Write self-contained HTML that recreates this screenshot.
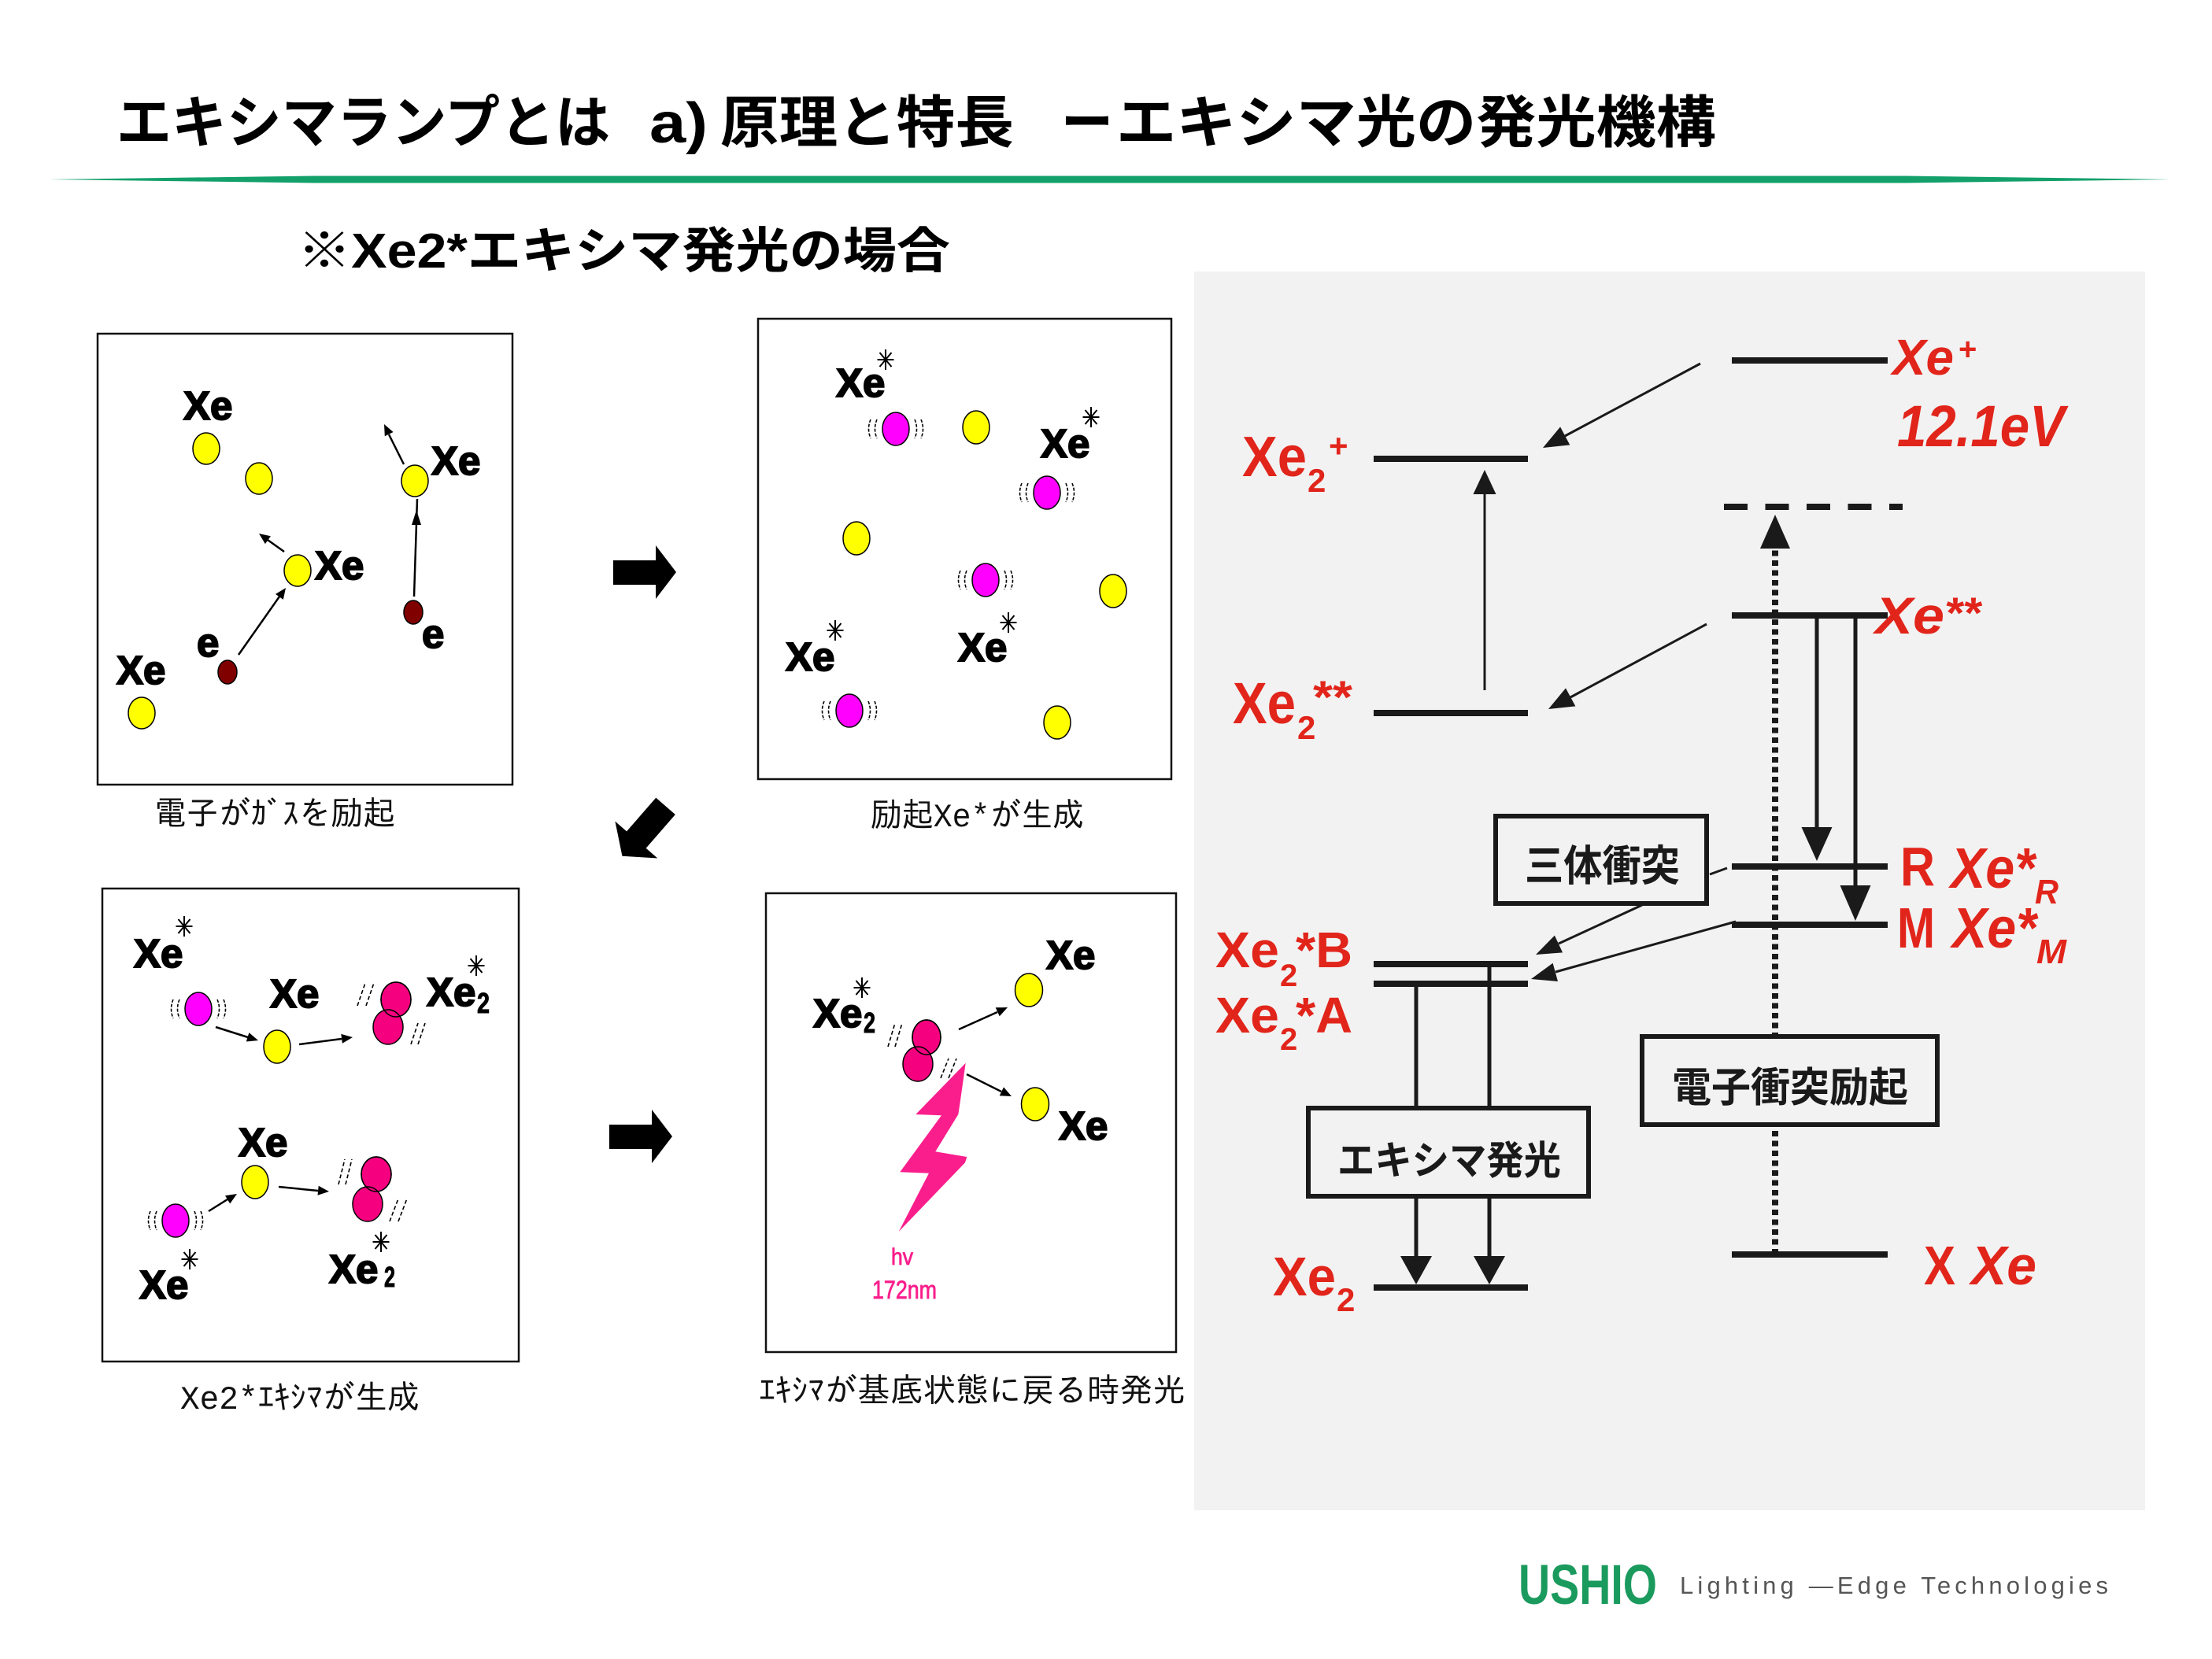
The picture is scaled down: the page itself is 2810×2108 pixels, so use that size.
<!DOCTYPE html>
<html><head><meta charset="utf-8">
<style>
html,body{margin:0;padding:0;background:#fff;width:2810px;height:2108px;overflow:hidden;}
svg{display:block;}
</style></head><body>
<svg width="2810" height="2108" viewBox="0 0 2810 2108" xmlns="http://www.w3.org/2000/svg">
<rect width="2810" height="2108" fill="#fff"/>

<!-- Title -->
<g font-family="'Liberation Sans','Noto Sans CJK JP',sans-serif" font-weight="700" fill="#000" font-size="72">
<text x="148" y="181" textLength="627" lengthAdjust="spacingAndGlyphs">エキシマランプとは</text>
<text x="825" y="181" textLength="74" lengthAdjust="spacingAndGlyphs">a)</text>
<text x="915" y="181" textLength="373" lengthAdjust="spacingAndGlyphs">原理と特長</text>
<text x="1348" y="181" textLength="66" lengthAdjust="spacingAndGlyphs">ー</text>
<text x="1418" y="181" textLength="762" lengthAdjust="spacingAndGlyphs">エキシマ光の発光機構</text>
</g>
<polygon points="63,228 400,223.5 2420,223.5 2757,228 2420,232.5 400,232.5" fill="#13a06a"/>
<text x="378" y="340" font-family="'Liberation Sans','Noto Sans CJK JP',sans-serif" font-weight="700" font-size="62" textLength="829" lengthAdjust="spacingAndGlyphs" fill="#000">※Xe2*エキシマ発光の場合</text>

<!-- Right panel background -->
<rect x="1517" y="345" width="1208" height="1574" fill="#f2f2f2"/>

<!-- Left boxes -->
<g fill="#fff" stroke="#111" stroke-width="2.5">
<rect x="124" y="424" width="527" height="573"/>
<rect x="963" y="405" width="525" height="585"/>
<rect x="130" y="1129" width="529" height="601"/>
<rect x="973" y="1135" width="521" height="583"/>
</g>

<!-- Big arrows -->
<g fill="#000">
<polygon points="779,712 833,712 833,693 859,727 833,761 833,743 779,743"/>
<polygon points="774,1429 828,1429 828,1410 854,1444 828,1478 828,1460 774,1460"/>
<polygon transform="translate(818,1056) rotate(131) scale(1.05)" points="-40,-15.5 14,-15.5 14,-34 40,0 14,34 14,15.5 -40,15.5"/>
</g>

<!-- Box1 contents -->
<g stroke="#000" stroke-width="1.5">
<ellipse cx="262" cy="570" rx="17" ry="20" fill="#ffff00"/>
<ellipse cx="329" cy="608" rx="17" ry="20" fill="#ffff00"/>
<ellipse cx="527" cy="611" rx="17" ry="20" fill="#ffff00"/>
<ellipse cx="378" cy="725" rx="17" ry="20" fill="#ffff00"/>
<ellipse cx="180" cy="906" rx="17" ry="20" fill="#ffff00"/>
<ellipse cx="289" cy="854" rx="12" ry="15" fill="#800000"/>
<ellipse cx="525" cy="778" rx="12" ry="15" fill="#800000"/>
</g>
<g stroke="#000" stroke-width="2.5" fill="none">
<line x1="303" y1="832" x2="355" y2="758"/>
<line x1="361" y1="701" x2="340" y2="686"/>
<line x1="513" y1="590" x2="494" y2="552"/>
<line x1="526" y1="758" x2="530" y2="634"/>
</g>
<g fill="#000">
<polygon points="363,747 359.8,761.9 350,754.9"/>
<polygon points="329,678 343.9,681.3 336.9,691.1"/>
<polygon points="488,539 499.6,549 488.8,554.2"/>
<polygon points="529,648 535,667 523,667"/>
</g>
<g font-family="'Liberation Sans',sans-serif" font-weight="700" font-size="51" fill="#000" stroke="#000" stroke-width="2">
<text x="233" y="533">Xe</text>
<text x="548" y="603">Xe</text>
<text x="400" y="736">Xe</text>
<text x="148" y="869">Xe</text>
<text x="250" y="834">e</text>
<text x="536" y="823">e</text>
</g>

<!-- Box2 contents -->
<g stroke="#000" stroke-width="1.5">
<ellipse cx="1138" cy="545" rx="17" ry="21" fill="#ff00ff"/>
<ellipse cx="1330" cy="626" rx="17" ry="21" fill="#ff00ff"/>
<ellipse cx="1252" cy="737" rx="17" ry="21" fill="#ff00ff"/>
<ellipse cx="1079" cy="903" rx="17" ry="21" fill="#ff00ff"/>
<ellipse cx="1240" cy="543" rx="17" ry="21" fill="#ffff00"/>
<ellipse cx="1088" cy="684" rx="17" ry="21" fill="#ffff00"/>
<ellipse cx="1414" cy="751" rx="17" ry="21" fill="#ffff00"/>
<ellipse cx="1343" cy="918" rx="17" ry="21" fill="#ffff00"/>
</g>
<!-- vibration marks -->
<g stroke="#000" stroke-width="1.6" fill="none" stroke-dasharray="4 2">
<path d="M1114,533 Q1109,545 1114,557 M1106,533 Q1101,545 1106,557 M1162,533 Q1167,545 1162,557 M1170,533 Q1175,545 1170,557"/>
<path d="M1306,614 Q1301,626 1306,638 M1298,614 Q1293,626 1298,638 M1354,614 Q1359,626 1354,638 M1362,614 Q1367,626 1362,638"/>
<path d="M1228,725 Q1223,737 1228,749 M1220,725 Q1215,737 1220,749 M1276,725 Q1281,737 1276,749 M1284,725 Q1289,737 1284,749"/>
<path d="M1055,891 Q1050,903 1055,915 M1047,891 Q1042,903 1047,915 M1103,891 Q1108,903 1103,915 M1111,891 Q1116,903 1111,915"/>
<path d="M228,1270 Q223,1282 228,1294 M220,1270 Q215,1282 220,1294 M276,1270 Q281,1282 276,1294 M284,1270 Q289,1282 284,1294"/>
<path d="M199,1539 Q194,1551 199,1563 M191,1539 Q186,1551 191,1563 M247,1539 Q252,1551 247,1563 M255,1539 Q260,1551 255,1563"/>
</g>
<g font-family="'Liberation Sans',sans-serif" font-weight="700" font-size="51" fill="#000" stroke="#000" stroke-width="2">
<text x="1062" y="504">Xe</text>
<text x="1322" y="581">Xe</text>
<text x="998" y="852">Xe</text>
<text x="1217" y="840">Xe</text>
</g>
<!-- asterisks -->
<g stroke="#000" stroke-width="2">
<path d="M1114.5,457 H1135.5 M1125,444 V470 M1117.5,448 L1132.5,466 M1117.5,466 L1132.5,448"/>
<path d="M1375.5,530 H1396.5 M1386,517 V543 M1378.5,521 L1393.5,539 M1378.5,539 L1393.5,521"/>
<path d="M1050.5,801 H1071.5 M1061,788 V814 M1053.5,792 L1068.5,810 M1053.5,810 L1068.5,792"/>
<path d="M1270.5,791 H1291.5 M1281,778 V804 M1273.5,782 L1288.5,800 M1273.5,800 L1288.5,782"/>
<path d="M223.5,1177 H244.5 M234,1164 V1190 M226.5,1168 L241.5,1186 M226.5,1186 L241.5,1168"/>
<path d="M594.5,1227 H615.5 M605,1214 V1240 M597.5,1218 L612.5,1236 M597.5,1236 L612.5,1218"/>
<path d="M473.5,1578 H494.5 M484,1565 V1591 M476.5,1569 L491.5,1587 M476.5,1587 L491.5,1569"/>
<path d="M230.5,1600 H251.5 M241,1587 V1613 M233.5,1591 L248.5,1609 M233.5,1609 L248.5,1591"/>
<path d="M1084.5,1255 H1105.5 M1095,1242 V1268 M1087.5,1246 L1102.5,1264 M1087.5,1264 L1102.5,1246"/>
</g>

<!-- Box3 contents -->
<g stroke="#000" stroke-width="1.5">
<ellipse cx="252" cy="1282" rx="17" ry="21" fill="#ff00ff"/>
<ellipse cx="223" cy="1551" rx="17" ry="21" fill="#ff00ff"/>
<ellipse cx="352" cy="1330" rx="17" ry="21" fill="#ffff00"/>
<ellipse cx="324" cy="1502" rx="17" ry="21" fill="#ffff00"/>
<ellipse cx="503" cy="1270" rx="19" ry="22" fill="#f5007f"/>
<ellipse cx="493" cy="1305" rx="19" ry="22" fill="#f5007f"/>
<ellipse cx="503" cy="1270" rx="19" ry="22" fill="none"/>
<ellipse cx="478" cy="1492" rx="19" ry="22" fill="#f5007f"/>
<ellipse cx="467" cy="1530" rx="19" ry="22" fill="#f5007f"/>
<ellipse cx="478" cy="1492" rx="19" ry="22" fill="none"/>
</g>
<g stroke="#000" stroke-width="2.5">
<line x1="274" y1="1305" x2="315" y2="1318"/>
<line x1="380" y1="1327" x2="434" y2="1320"/>
<line x1="265" y1="1539" x2="289" y2="1524"/>
<line x1="354" y1="1508" x2="404" y2="1513"/>
</g>
<g fill="#000">
<polygon points="328,1322 312.8,1323.5 316.4,1312.1"/>
<polygon points="448,1318 434.9,1325.7 433.3,1313.9"/>
<polygon points="301,1517 292.2,1529.4 286,1519.2"/>
<polygon points="418,1514 403.5,1518.7 404.7,1506.7"/>
</g>
<g stroke="#000" stroke-width="1.6" stroke-dasharray="5 3">
<path d="M454,1278 L464,1249 M465,1278 L475,1249"/>
<path d="M522,1327 L531,1300 M531,1327 L540,1300"/>
<path d="M430,1505 L438,1473 M439,1505 L447,1473"/>
<path d="M495,1552 L506,1523 M506,1552 L517,1523"/>
<path d="M1128,1330 L1137,1300 M1137,1330 L1146,1300"/>
<path d="M1195,1370 L1205,1345 M1205,1370 L1215,1345"/>
</g>
<g font-family="'Liberation Sans',sans-serif" font-weight="700" font-size="51" fill="#000" stroke="#000" stroke-width="2">
<text x="170" y="1229">Xe</text>
<text x="343" y="1280">Xe</text>
<text x="542" y="1278">Xe</text>
<text x="303" y="1469">Xe</text>
<text x="418" y="1630">Xe</text>
<text x="177" y="1650">Xe</text>
<text x="1033" y="1305">Xe</text>
<text x="1329" y="1231">Xe</text>
<text x="1345" y="1448">Xe</text>
</g>
<g font-family="'Liberation Sans',sans-serif" font-weight="700" font-size="36" fill="#000" stroke="#000" stroke-width="1">
<text x="606" y="1287" textLength="16" lengthAdjust="spacingAndGlyphs">2</text>
<text x="488" y="1635" textLength="14" lengthAdjust="spacingAndGlyphs">2</text>
<text x="1097" y="1312" textLength="15" lengthAdjust="spacingAndGlyphs">2</text>
</g>

<!-- Box4 contents -->
<g stroke="#000" stroke-width="1.5">
<ellipse cx="1177" cy="1318" rx="18" ry="22" fill="#f5007f"/>
<ellipse cx="1166" cy="1352" rx="19" ry="22" fill="#f5007f"/>
<ellipse cx="1177" cy="1318" rx="18" ry="22" fill="none"/>
<ellipse cx="1307" cy="1258" rx="17.5" ry="21" fill="#ffff00"/>
<ellipse cx="1315" cy="1403" rx="17.5" ry="21" fill="#ffff00"/>
</g>
<g stroke="#000" stroke-width="2.5">
<line x1="1218" y1="1308" x2="1267" y2="1286"/>
<line x1="1228" y1="1365" x2="1272" y2="1387"/>
</g>
<g fill="#000">
<polygon points="1280,1280 1269.7,1291.3 1264.7,1280.3"/>
<polygon points="1285,1393 1269.8,1392.2 1275,1381.4"/>
</g>
<polygon fill="#fa1e8c" points="1226.7,1350.7 1219.3,1403.3 1217.3,1416 1188.3,1463.3 1228.3,1470 1226,1477.3 1141.7,1565 1180,1490.7 1143.3,1489.3 1196,1417.3 1163.3,1416"/>
<g font-family="'Liberation Sans',sans-serif" fill="#fa1e8c" stroke="#fa1e8c" stroke-width="0.8">
<text x="1132" y="1607" font-size="30" textLength="28" lengthAdjust="spacingAndGlyphs">hv</text>
<text x="1108" y="1650" font-size="32" textLength="82" lengthAdjust="spacingAndGlyphs">172nm</text>
</g>

<!-- Captions -->
<g font-family="'Liberation Mono','IPAGothic','Noto Sans CJK JP',monospace" font-size="42" fill="#111">
<text x="196" y="1048" textLength="306" lengthAdjust="spacingAndGlyphs">電子がｶﾞｽを励起</text>
<text x="1106" y="1050" textLength="271" lengthAdjust="spacingAndGlyphs">励起Xe*が生成</text>
<text x="229" y="1790" textLength="304" lengthAdjust="spacingAndGlyphs">Xe2*ｴｷｼﾏが生成</text>
<text x="964" y="1781" textLength="542" lengthAdjust="spacingAndGlyphs">ｴｷｼﾏが基底状態に戻る時発光</text>
</g>

<!-- Energy diagram -->
<g stroke="#1a1a1a" stroke-width="8">
<line x1="1745" y1="583" x2="1941" y2="583"/>
<line x1="1745" y1="906" x2="1941" y2="906"/>
<line x1="1745" y1="1225" x2="1941" y2="1225"/>
<line x1="1745" y1="1250" x2="1941" y2="1250"/>
<line x1="1745" y1="1636" x2="1941" y2="1636"/>
<line x1="2200" y1="458" x2="2398" y2="458"/>
<line x1="2200" y1="782" x2="2398" y2="782"/>
<line x1="2200" y1="1101" x2="2398" y2="1101"/>
<line x1="2200" y1="1175" x2="2398" y2="1175"/>
<line x1="2200" y1="1594" x2="2398" y2="1594"/>
<line x1="2190" y1="644" x2="2417" y2="644" stroke-dasharray="30 22.5"/>
<line x1="2255" y1="1594" x2="2255" y2="696" stroke-dasharray="7 5.5"/>
</g>
<g stroke="#1a1a1a" stroke-width="3">
<line x1="1886" y1="877" x2="1886" y2="626"/>
<line x1="2160" y1="462" x2="1988" y2="554"/>
<line x1="2168" y1="793" x2="1995" y2="886"/>
<line x1="2086" y1="1150" x2="1980" y2="1199"/>
<line x1="2205" y1="1171" x2="1976" y2="1235"/>
<line x1="2172" y1="1111" x2="2194" y2="1103"/>
</g>
<g stroke="#1a1a1a" stroke-width="5">
<line x1="1892" y1="1225" x2="1892" y2="1408"/>
<line x1="1799" y1="1250" x2="1799" y2="1408"/>
<line x1="1799" y1="1520" x2="1799" y2="1600"/>
<line x1="1892" y1="1520" x2="1892" y2="1600"/>
<line x1="2308" y1="782" x2="2308" y2="1056"/>
<line x1="2357" y1="782" x2="2357" y2="1130"/>
</g>
<g fill="#1a1a1a">
<polygon points="1886,597 1871.5,628 1900.5,628"/>
<polygon points="1960,569 1982.1,542.4 1994.3,565.4"/>
<polygon points="1967,901 1989,874.4 2001.4,897.4"/>
<polygon points="1951,1213 1974.9,1188.6 1985.1,1210.4"/>
<polygon points="1945,1244 1972.6,1223.8 1979,1247"/>
<polygon points="1799,1632 1779,1596 1819,1596"/>
<polygon points="1892,1632 1872,1596 1912,1596"/>
<polygon points="2308,1094 2288.5,1051 2327.5,1051"/>
<polygon points="2357,1170 2337.5,1125 2376.5,1125"/>
<polygon points="2255,654 2236,697 2274,697"/>
</g>
<g fill="#f2f2f2" stroke="#1a1a1a" stroke-width="6">
<rect x="1900" y="1037" width="268" height="111"/>
<rect x="2086" y="1317" width="375" height="112"/>
<rect x="1662" y="1408" width="356" height="112"/>
</g>
<g font-family="'Liberation Sans','Noto Sans CJK JP',sans-serif" font-weight="700" fill="#1a1a1a">
<text x="1937" y="1119" font-size="54" textLength="197" lengthAdjust="spacingAndGlyphs">三体衝突</text>
<text x="2124" y="1400" font-size="52" textLength="300" lengthAdjust="spacingAndGlyphs">電子衝突励起</text>
<text x="1699" y="1492" font-size="50" textLength="284" lengthAdjust="spacingAndGlyphs">エキシマ発光</text>
</g>

<!-- Red labels left -->
<g font-family="'Liberation Sans',sans-serif" font-weight="700" fill="#e1251b">
<text x="1578" y="605" font-size="72" textLength="82" lengthAdjust="spacingAndGlyphs">Xe</text>
<text x="1661" y="625" font-size="42">2</text>
<text x="1688" y="581" font-size="42">+</text>
<text x="1566" y="919" font-size="74" textLength="80" lengthAdjust="spacingAndGlyphs">Xe</text>
<text x="1648" y="939" font-size="42">2</text>
<text x="1668" y="906" font-size="58" textLength="50" lengthAdjust="spacingAndGlyphs">**</text>
<text x="1544" y="1229" font-size="64" textLength="81" lengthAdjust="spacingAndGlyphs">Xe</text>
<text x="1626" y="1253" font-size="40">2</text>
<text x="1646" y="1229" font-size="64" textLength="72" lengthAdjust="spacingAndGlyphs">*B</text>
<text x="1544" y="1312" font-size="64" textLength="81" lengthAdjust="spacingAndGlyphs">Xe</text>
<text x="1626" y="1334" font-size="40">2</text>
<text x="1646" y="1312" font-size="64" textLength="72" lengthAdjust="spacingAndGlyphs">*A</text>
<text x="1617" y="1646" font-size="70" textLength="80" lengthAdjust="spacingAndGlyphs">Xe</text>
<text x="1698" y="1666" font-size="42">2</text>
</g>
<!-- Red labels right -->
<g font-family="'Liberation Sans',sans-serif" font-weight="700" fill="#e1251b">
<text x="2404" y="476" font-size="64" font-style="italic" textLength="78" lengthAdjust="spacingAndGlyphs">Xe</text>
<text x="2488" y="457" font-size="40">+</text>
<text x="2410" y="567" font-size="74" font-style="italic" textLength="213" lengthAdjust="spacingAndGlyphs">12.1eV</text>
<text x="2382" y="805" font-size="66" font-style="italic" textLength="88" lengthAdjust="spacingAndGlyphs">Xe</text>
<text x="2470" y="798" font-size="56" font-style="italic" textLength="46" lengthAdjust="spacingAndGlyphs">**</text>
<text x="2414" y="1125" font-size="70" textLength="44" lengthAdjust="spacingAndGlyphs">R</text>
<text x="2478" y="1128" font-size="72" font-style="italic" textLength="107" lengthAdjust="spacingAndGlyphs">Xe*</text>
<text x="2585" y="1148" font-size="44" font-style="italic" textLength="30" lengthAdjust="spacingAndGlyphs">R</text>
<text x="2410" y="1204" font-size="72" textLength="48" lengthAdjust="spacingAndGlyphs">M</text>
<text x="2480" y="1204" font-size="72" font-style="italic" textLength="107" lengthAdjust="spacingAndGlyphs">Xe*</text>
<text x="2587" y="1224" font-size="44" font-style="italic" textLength="38" lengthAdjust="spacingAndGlyphs">M</text>
<text x="2444" y="1632" font-size="70" textLength="40" lengthAdjust="spacingAndGlyphs">X</text>
<text x="2504" y="1632" font-size="70" font-style="italic" textLength="83" lengthAdjust="spacingAndGlyphs">Xe</text>
</g>

<!-- Footer -->
<text x="1929" y="2038" font-family="'Liberation Sans',sans-serif" font-weight="700" font-size="71" fill="#1b9a5e" textLength="176" lengthAdjust="spacingAndGlyphs">USHIO</text>
<text x="2134" y="2025" font-family="'Liberation Sans',sans-serif" font-size="31" fill="#555" textLength="544" lengthAdjust="spacing">Lighting —Edge Technologies</text>
</svg>
</body></html>
